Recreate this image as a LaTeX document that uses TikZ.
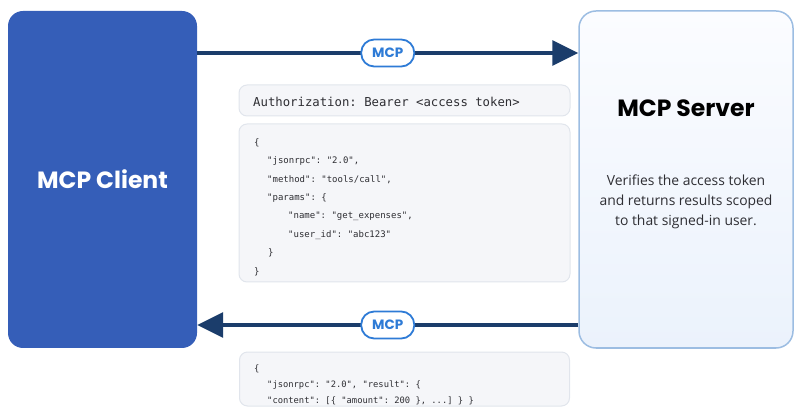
\documentclass[tikz,border=0pt]{standalone}
\usepackage{fontspec}
\setmainfont{Open Sans}
\setmonofont{DejaVu Sans Mono}
\newfontfamily\headfont{Poppins}
\usepackage{tikz}
\usetikzlibrary{arrows.meta}

\definecolor{clientblue}{HTML}{355EB8}
\definecolor{arrownavy}{HTML}{1B3D6B}
\definecolor{pillblue}{HTML}{2E7BD6}
\definecolor{srvborder}{HTML}{9CBDE2}
\definecolor{srvtop}{HTML}{FBFCFF}
\definecolor{srvbot}{HTML}{EBF2FC}
\definecolor{codefill}{HTML}{F5F6F9}
\definecolor{codeline}{HTML}{E1E5EC}
\definecolor{inktext}{HTML}{2E2E33}

\begin{document}
\begin{tikzpicture}[x=1pt,y=-1pt,
  party/.style n args={2}{rounded corners=15pt,minimum width=#1pt,minimum height=#2pt,inner sep=0pt},
  codebox/.style n args={2}{draw=codeline,fill=codefill,line width=1pt,rounded corners=8pt,minimum width=#1pt,minimum height=#2pt},
  flow/.style={draw=arrownavy,line width=3.2pt,-{Triangle[length=26pt,width=25pt]}},
  pill/.style={draw=pillblue,fill=white,line width=1.8pt,rounded corners=13pt,minimum width=53pt,minimum height=27pt,inner sep=0pt,text=pillblue,font=\headfont\bfseries\fontsize{13.5}{16}\selectfont},
  code/.style={anchor=west,inner sep=0pt,text height=6.5pt,text depth=0pt,text=inktext,font=\ttfamily\fontsize{9}{11}\selectfont}]
\useasboundingbox (0,0) rectangle (800,419);
% the two parties
\node[party={189}{337},fill=clientblue,text=white,font=\headfont\bfseries\fontsize{23.5}{28}\selectfont]
   (client) at (102.5,179.5) {MCP Client};
\node[party={214}{337},draw=srvborder,line width=1.5pt,top color=srvtop,bottom color=srvbot,rounded corners=17pt]
   (server) at (686,179.5) {};
\node[font=\headfont\bfseries\fontsize{23.5}{28}\selectfont,text=black] (srvtitle) at (686,108) {MCP Server};
\node[align=center,font=\fontsize{13.9}{20}\selectfont,text=inktext] (srvnote) at (686,202)
   {Verifies the access token\\and returns results scoped\\to that signed-in user.};
% request and response lanes
\coordinate (toplane) at (0,53);
\coordinate (botlane) at (0,325);
\draw[flow] (client.east |- toplane) -- node[pill] (pilltop) {MCP} (server.west |- toplane);
\draw[flow] (server.west |- botlane) -- node[pill] (pillbot) {MCP} (client.east |- botlane);
% request payload
\node[codebox={331}{31}] (auth) at (404.5,100.5) {};
\node[code,text height=9pt,font=\ttfamily\fontsize{12.3}{14}\selectfont] (authtext) at (253,102)
   {Authorization: Bearer <access token>};
\node[codebox={331}{158}] (req) at (404.5,203) {};
\foreach \x/\1 [count=\i] in %
{254/\{,267/{"jsonrpc": "2.0",},267/{"method": "tools/call",},267/{"params": \{},
 288/{"name": "get\_expenses",},288/{"user\_id": "abc123"},268/\},254/\}} {
   \node[code] (req\i) at (\x,142+\i*18.4-18.4) {\1};
}
% response payload
\node[codebox={330}{54}] (resp) at (404.5,379) {};
\foreach \x/\1 [count=\i] in %
{254/\{,267/{"jsonrpc": "2.0", "result": \{},267/{"content": [\{ "amount": 200 \}, ...] \} \}}} {
   \node[code,font=\ttfamily\fontsize{8.8}{11}\selectfont] (resp\i) at (\x,352+\i*16) {\1};
}
\end{tikzpicture}
\end{document}
